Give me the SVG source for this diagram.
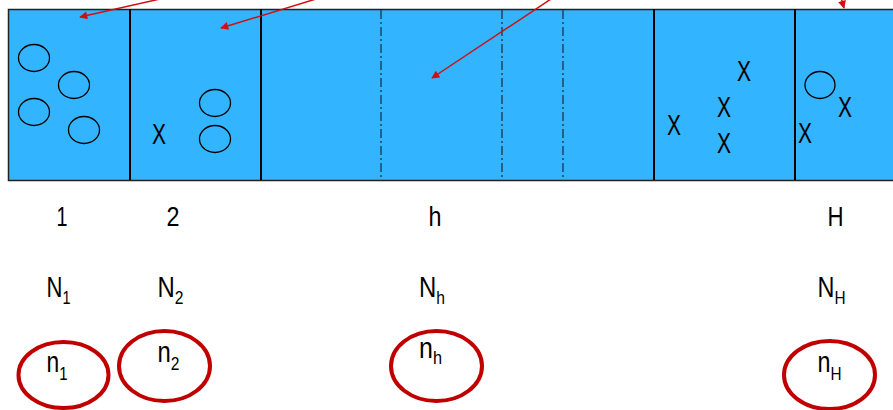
<svg xmlns="http://www.w3.org/2000/svg" width="893" height="410" viewBox="0 0 893 410">
<style>
text{font-family:"Liberation Sans",Arial,sans-serif;fill:#000}
.lbl{font-size:29px}
.num{font-size:27px;text-anchor:middle}
.x{font-size:29px}
.sub{font-size:19px}
.unit{fill:none;stroke:#000;stroke-width:1.3}
.sample{fill:none;stroke:#c00000;stroke-width:4}
.div{stroke:#000;stroke-width:2}
.dd{stroke:#1a2a3a;stroke-width:1.2;stroke-dasharray:9,3,2,3}
.arr{stroke:#d01010;stroke-width:1.5;fill:none;marker-end:url(#ah)}
</style>
<defs>
<marker id="ah" viewBox="0 0 10 10" refX="9" refY="5" markerWidth="9" markerHeight="8" markerUnits="userSpaceOnUse" orient="auto">
<path d="M0,0 L10,5 L0,10 z" fill="#d01010"/>
</marker>
</defs>
<rect width="893" height="410" fill="#fff"/>
<g id="population">
<rect x="8.5" y="9.5" width="900" height="171" fill="#33b4ff" stroke="#222" stroke-width="1.5"/>
<line class="div" x1="130" y1="9" x2="130" y2="180"/>
<line class="div" x1="261" y1="9" x2="261" y2="180"/>
<line class="div" x1="654" y1="9" x2="654" y2="180"/>
<line class="div" x1="795" y1="9" x2="795" y2="180"/>
<line class="dd" x1="381" y1="10" x2="381" y2="180"/>
<line class="dd" x1="502" y1="10" x2="502" y2="180"/>
<line class="dd" x1="563" y1="10" x2="563" y2="180"/>
</g>
<g id="stratum1">
<ellipse class="unit" cx="34" cy="58" rx="15.5" ry="13.5"/>
<ellipse class="unit" cx="74" cy="85" rx="15.5" ry="13.5"/>
<ellipse class="unit" cx="34" cy="112" rx="15.5" ry="13.5"/>
<ellipse class="unit" cx="84" cy="130" rx="15.5" ry="13.5"/>
<text class="num" x="62" y="226" textLength="11" lengthAdjust="spacingAndGlyphs">1</text>
<text class="lbl" x="46.5" y="297" textLength="24" lengthAdjust="spacingAndGlyphs">N<tspan class="sub" dy="7">1</tspan></text>
<ellipse class="sample" cx="63.5" cy="375" rx="45" ry="33"/>
<text class="lbl" x="46.5" y="372" textLength="21" lengthAdjust="spacingAndGlyphs">n<tspan class="sub" dy="8">1</tspan></text>
</g>
<g id="stratum2">
<text class="x" x="152" y="144" textLength="14" lengthAdjust="spacingAndGlyphs">X</text>
<ellipse class="unit" cx="215" cy="103" rx="15.5" ry="13.5"/>
<ellipse class="unit" cx="215" cy="139" rx="15.5" ry="13.5"/>
<text class="num" x="173" y="226" textLength="13" lengthAdjust="spacingAndGlyphs">2</text>
<text class="lbl" x="157.5" y="297" textLength="26" lengthAdjust="spacingAndGlyphs">N<tspan class="sub" dy="7">2</tspan></text>
<ellipse class="sample" cx="164.5" cy="366" rx="45.5" ry="35"/>
<text class="lbl" x="157.5" y="362" textLength="22" lengthAdjust="spacingAndGlyphs">n<tspan class="sub" dy="8">2</tspan></text>
</g>
<g id="stratumh">
<text class="num" x="435" y="226" textLength="13" lengthAdjust="spacingAndGlyphs">h</text>
<text class="lbl" x="419" y="297" textLength="26" lengthAdjust="spacingAndGlyphs">N<tspan class="sub" dy="7">h</tspan></text>
<ellipse class="sample" cx="436.5" cy="366" rx="45.5" ry="35"/>
<text class="lbl" x="419" y="358" textLength="23" lengthAdjust="spacingAndGlyphs">n<tspan class="sub" dy="6">h</tspan></text>
</g>
<g id="stratum5">
<text class="x" x="667" y="135" textLength="14" lengthAdjust="spacingAndGlyphs">X</text>
<text class="x" x="717" y="117" textLength="14" lengthAdjust="spacingAndGlyphs">X</text>
<text class="x" x="717" y="153" textLength="14" lengthAdjust="spacingAndGlyphs">X</text>
<text class="x" x="737" y="81" textLength="14" lengthAdjust="spacingAndGlyphs">X</text>
</g>
<g id="stratumH">
<ellipse class="unit" cx="820" cy="85" rx="15" ry="13.5"/>
<text class="x" x="838" y="117" textLength="14" lengthAdjust="spacingAndGlyphs">X</text>
<text class="x" x="798" y="143" textLength="14" lengthAdjust="spacingAndGlyphs">X</text>
<text class="num" x="835.5" y="226" textLength="16" lengthAdjust="spacingAndGlyphs">H</text>
<text class="lbl" x="817.5" y="297" textLength="28" lengthAdjust="spacingAndGlyphs">N<tspan class="sub" dy="7">H</tspan></text>
<ellipse class="sample" cx="829.5" cy="375" rx="45.5" ry="34"/>
<text class="lbl" x="817.5" y="372" textLength="24" lengthAdjust="spacingAndGlyphs">n<tspan class="sub" dy="8">H</tspan></text>
</g>
<g id="connectors">
<line class="arr" x1="160" y1="-1" x2="80" y2="17"/>
<line class="arr" x1="316" y1="-1" x2="221" y2="28"/>
<line class="arr" x1="551" y1="-1" x2="432" y2="78"/>
<line class="arr" x1="836" y1="-20" x2="844" y2="8"/>
</g>
</svg>
